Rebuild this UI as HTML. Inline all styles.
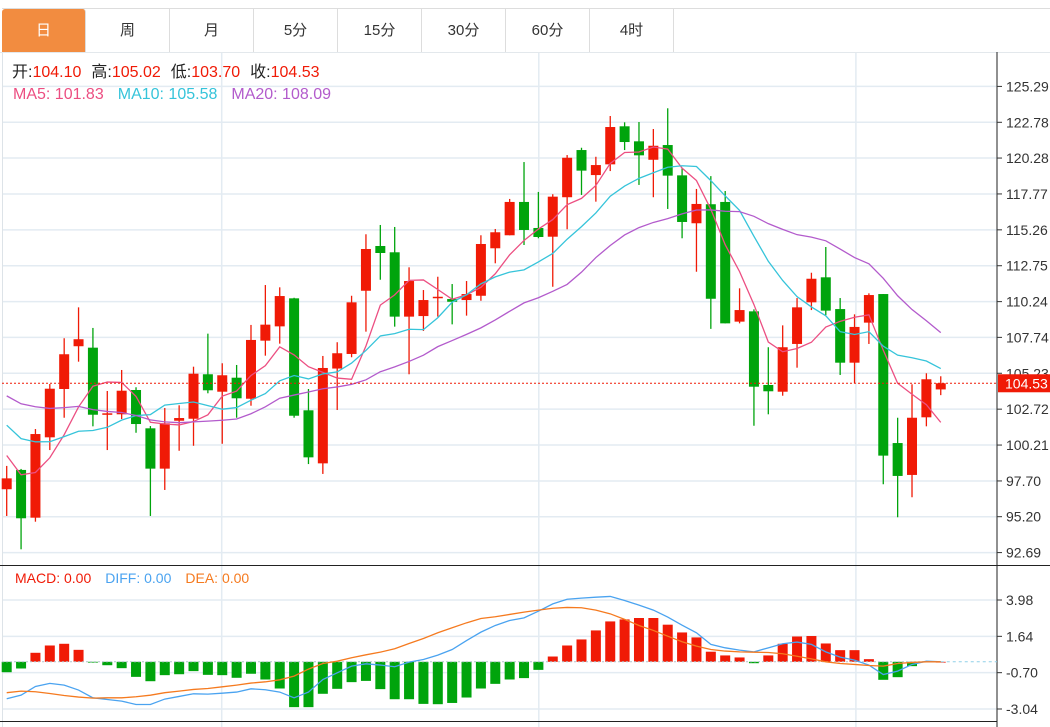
<!DOCTYPE html>
<html><head><meta charset="utf-8">
<style>
body{margin:0;background:#fff;width:1050px;height:727px;overflow:hidden;font-family:"Liberation Sans","Noto Sans CJK SC",sans-serif;}
#tabs{position:absolute;left:2px;top:8px;height:43px;display:flex;border-top:1px solid #ddd;border-bottom:1px solid #ddd;width:1048px;}
.tab{width:83px;border-right:1px solid #ddd;text-align:center;line-height:43px;font-size:15px;color:#333;}
.tab.active{background:#f28c40;color:#fff;border-radius:3px 3px 0 0;}
svg{position:absolute;left:0;top:0;}
</style></head><body>
<div id="tabs">
<div class="tab active">日</div>
<div class="tab">周</div>
<div class="tab">月</div>
<div class="tab">5分</div>
<div class="tab">15分</div>
<div class="tab">30分</div>
<div class="tab">60分</div>
<div class="tab">4时</div>
</div>
<svg id="chart" width="1050" height="727" style="top:0"></svg>
<script>
const opens=[97.12,98.47,95.13,100.75,104.13,107.12,107.02,102.36,102.36,104.06,101.38,98.56,101.91,102.05,105.16,103.94,104.92,103.45,107.51,108.51,110.47,102.64,98.93,105.56,106.58,111.00,114.13,113.69,109.19,109.23,110.51,110.42,110.35,110.65,113.97,114.88,117.21,115.39,114.78,117.54,120.84,119.09,119.84,122.50,121.45,120.16,121.19,119.07,115.72,117.05,117.21,108.84,109.56,104.41,103.94,107.28,110.19,111.94,109.72,105.97,108.77,110.77,100.35,98.12,102.15,104.10];
const closes=[97.88,95.09,100.98,104.15,106.56,107.61,102.33,102.43,104.01,101.68,98.56,101.73,102.10,105.20,104.04,105.09,103.48,107.56,108.63,110.63,102.26,99.35,105.60,106.63,110.19,113.92,113.64,109.19,111.68,110.35,110.58,110.23,110.77,114.27,115.09,117.21,115.25,114.76,117.58,120.30,119.40,119.79,122.45,121.40,120.47,121.14,119.05,115.81,117.07,110.44,108.72,109.65,104.29,103.97,107.05,109.84,111.84,109.61,105.97,108.47,110.70,99.47,98.05,102.12,104.81,104.53];
const highs=[98.75,98.54,101.33,104.48,107.68,109.84,108.40,103.99,105.46,104.25,101.54,102.80,102.99,105.69,108.00,105.93,105.81,108.61,111.40,111.24,110.51,104.13,106.44,107.40,110.65,114.95,115.60,115.46,112.64,111.05,111.98,111.47,111.68,114.88,115.32,117.42,120.00,117.91,117.75,120.49,121.00,120.37,123.22,122.78,122.80,122.31,123.76,119.56,118.12,119.02,117.98,111.17,109.70,107.05,108.58,110.49,112.26,114.06,110.49,109.35,110.82,110.77,102.12,104.46,105.23,105.02];
const lows=[95.25,92.92,94.85,99.86,102.12,106.04,101.52,99.86,102.03,101.07,95.25,97.07,99.81,100.16,103.83,100.30,102.12,102.96,106.46,107.30,102.12,98.88,98.19,102.66,106.35,108.14,111.77,108.49,105.16,108.19,109.19,108.65,109.26,110.30,112.92,114.88,114.20,114.67,111.28,115.30,117.70,117.23,119.37,120.84,118.40,117.54,116.72,114.67,112.33,108.33,108.72,108.72,101.56,102.36,103.66,105.62,109.65,109.30,105.11,104.53,107.28,97.47,95.16,96.56,101.52,103.70];
const priorCloses=[106.2,105.1,106.5,105.4,105.9,106.8,105.0,105.5,105.9,104.7,104.5,103.2,104.1,103.0,103.8,101.8,100.2,99.0,98.5];
const priceTicks=[125.29,122.78,120.28,117.77,115.26,112.75,110.24,107.74,105.23,102.72,100.21,97.70,95.20,92.69];
const macdHist=[-0.67,-0.43,0.58,1.05,1.16,0.77,-0.02,-0.22,-0.41,-0.97,-1.25,-0.86,-0.80,-0.60,-0.84,-0.86,-1.03,-0.77,-1.14,-1.72,-2.92,-2.92,-2.06,-1.74,-1.31,-1.23,-1.76,-2.41,-2.41,-2.71,-2.73,-2.65,-2.30,-1.72,-1.42,-1.14,-1.05,-0.52,0.34,1.05,1.44,2.02,2.60,2.73,2.82,2.82,2.39,1.89,1.57,0.65,0.41,0.28,-0.09,0.41,1.16,1.63,1.66,1.18,0.75,0.75,0.17,-1.16,-0.99,-0.28,0.02,0];
const diffVals=[-2.38,-2.15,-1.59,-1.39,-1.50,-1.82,-2.32,-2.43,-2.53,-2.75,-2.75,-2.40,-2.23,-2.06,-2.08,-2.02,-1.95,-1.74,-1.80,-1.95,-2.32,-1.95,-1.14,-0.71,-0.28,-0.13,-0.21,-0.32,-0.02,0.15,0.43,0.79,1.37,1.91,2.34,2.66,2.83,3.26,3.73,4.03,4.10,4.16,4.21,3.95,3.65,3.33,2.88,2.36,1.87,1.12,0.90,0.75,0.64,0.90,1.16,1.27,1.12,0.64,0.30,0.11,-0.21,-0.82,-0.60,-0.17,0.04,0];
const deaVals=[-1.99,-1.89,-1.93,-2.04,-2.17,-2.27,-2.34,-2.32,-2.32,-2.25,-2.15,-1.99,-1.89,-1.78,-1.72,-1.61,-1.50,-1.37,-1.29,-1.16,-0.92,-0.47,-0.11,0.04,0.26,0.45,0.62,0.84,1.18,1.50,1.87,2.19,2.51,2.79,2.90,3.05,3.20,3.33,3.45,3.50,3.48,3.33,3.09,2.73,2.34,2.02,1.65,1.29,1.01,0.79,0.69,0.64,0.62,0.60,0.52,0.36,0.19,0,-0.11,-0.17,-0.24,-0.28,-0.11,-0.04,0,0];
const macdTicks=[3.98,1.64,-0.70,-3.04];

const NS="http://www.w3.org/2000/svg";
const svg=document.getElementById('chart');
function el(tag,attrs,parent){const e=document.createElementNS(NS,tag);for(const k in attrs)e.setAttribute(k,attrs[k]);(parent||svg).appendChild(e);return e;}
const xOf=i=>6.7+i*14.37;
const yP=v=>122.3+(122.78-v)*14.3;
const yM=v=>661.8-v*15.53;
const RED="#f01a06",GREEN="#00a40c";

let g;
g=el('g',{});


[221.7,538.8,855.9].forEach(x=>el('line',{x1:x,y1:52,x2:x,y2:727,stroke:'#e3ebf2','stroke-width':1.5},g));
priceTicks.forEach(v=>el('line',{x1:2,y1:yP(v),x2:997,y2:yP(v),stroke:'#e3ebf2','stroke-width':1.5},g));
macdTicks.forEach(v=>el('line',{x1:2,y1:yM(v),x2:997,y2:yM(v),stroke:'#e3ebf2','stroke-width':1.5},g));
el('line',{x1:2.5,y1:52,x2:2.5,y2:727,stroke:'#dde3e8'});
el('line',{x1:0,y1:52.5,x2:1050,y2:52.5,stroke:'#e3e8ec'});
el('line',{x1:997,y1:52,x2:997,y2:727,stroke:'#222'});
el('line',{x1:0,y1:565.5,x2:1050,y2:565.5,stroke:'#222'});
el('line',{x1:0,y1:721.5,x2:997,y2:721.5,stroke:'#222'});

const ax=el('g',{'font-size':'14','fill':'#333','font-family':'Liberation Sans, sans-serif'});


priceTicks.forEach(v=>{el('line',{x1:997,y1:yP(v),x2:1002,y2:yP(v),stroke:'#333'},ax);const t=el('text',{x:1006,y:yP(v)+5},ax);t.textContent=v.toFixed(2);});
const mx=el('g',{'font-size':'14','fill':'#333','font-family':'Liberation Sans, sans-serif'});


macdTicks.forEach(v=>{el('line',{x1:997,y1:yM(v),x2:1002,y2:yM(v),stroke:'#333'},mx);const t=el('text',{x:1006,y:yM(v)+5},mx);t.textContent=v.toFixed(2);});

const cg=el('g',{});


for(let i=0;i<opens.length;i++){
  const up=closes[i]>=opens[i];const c=up?RED:GREEN;const x=xOf(i);
  const w=el('line',{x1:x,y1:yP(highs[i]),x2:x,y2:yP(lows[i]),stroke:c,'stroke-width':1.3},cg);
  
  
  const top=yP(Math.max(opens[i],closes[i])),bot=yP(Math.min(opens[i],closes[i]));
  const b=el('rect',{x:x-5,y:top,width:10,height:Math.max(1.5,bot-top),fill:c},cg);
  
  
}
const all=priorCloses.concat(closes);
function ma(n){const r=[];for(let i=0;i<closes.length;i++){const j=i+priorCloses.length;let s=0,c=0;for(let k=Math.max(0,j-n+1);k<=j;k++){s+=all[k];c++;}r.push(s/c);}return r;}
[[5,'#ec4f82','ma5-line'],[10,'#36c4da','ma10-line'],[20,'#b35bcc','ma20-line']].forEach(([n,col,name])=>{
  const m=ma(n);const p=el('polyline',{points:m.map((v,i)=>xOf(i)+','+yP(v)).join(' '),fill:'none',stroke:col,'stroke-width':1.3});
  
  
});
const lp=closes[closes.length-1];
const pl=el('line',{x1:2,y1:yP(lp),x2:997,y2:yP(lp),stroke:RED,'stroke-dasharray':'2,2','stroke-width':1});


const lb=el('rect',{x:998,y:yP(lp)-9,width:52,height:18,fill:RED});


const lt=el('text',{x:1005,y:yP(lp)+5,fill:'#fff','font-size':'14'});lt.textContent=lp.toFixed(2);

const hg=el('g',{});


const z=yM(0);
el('line',{x1:xOf(macdHist.length-1),y1:z,x2:997,y2:z,stroke:'#8fd0e8','stroke-dasharray':'3,3'});
el('line',{x1:2,y1:z,x2:xOf(macdHist.length-1),y2:z,stroke:'#b0c4cc','stroke-dasharray':'2,2'});
macdHist.forEach((v,i)=>{const y=yM(v);const r=el('rect',{x:xOf(i)-5,y:Math.min(y,z),width:10,height:Math.max(0.8,Math.abs(y-z)),fill:v>=0?RED:GREEN},hg);

});
const dl=el('polyline',{points:diffVals.map((v,i)=>xOf(i)+','+yM(v)).join(' '),fill:'none',stroke:'#4aa3f0','stroke-width':1.3});


const el2=el('polyline',{points:deaVals.map((v,i)=>xOf(i)+','+yM(v)).join(' '),fill:'none',stroke:'#f57a1f','stroke-width':1.3});


</script>
<svg width="1050" height="727" style="pointer-events:none">
<g font-family="Liberation Sans, Noto Sans CJK SC, sans-serif">
<text x="12" y="77" font-size="16"><tspan fill="#222">开:</tspan><tspan fill="#f01a06">104.10</tspan><tspan fill="#222" dx="10">高:</tspan><tspan fill="#f01a06">105.02</tspan><tspan fill="#222" dx="10">低:</tspan><tspan fill="#f01a06">103.70</tspan><tspan fill="#222" dx="10">收:</tspan><tspan fill="#f01a06">104.53</tspan></text>
<text x="13" y="99" font-size="16"><tspan fill="#ec4f82">MA5: 101.83</tspan><tspan fill="#36c4da" dx="14">MA10: 105.58</tspan><tspan fill="#b35bcc" dx="14">MA20: 108.09</tspan></text>
<text x="15" y="583" font-size="14"><tspan fill="#f01a06">MACD: 0.00</tspan><tspan fill="#4aa3f0" dx="14">DIFF: 0.00</tspan><tspan fill="#f57a1f" dx="14">DEA: 0.00</tspan></text>
</g></svg>
</body></html>
